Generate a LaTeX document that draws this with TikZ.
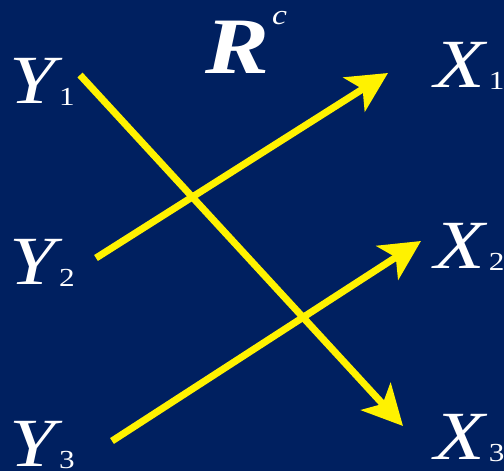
\documentclass[tikz,border=0pt]{standalone}
\usepackage{fontspec}
\setmainfont[FakeStretch=1.2]{Liberation Serif}
\usepackage{tikz}
\usetikzlibrary{arrows.meta}
\usepackage{xcolor}
\definecolor{navy}{RGB}{0,32,96}
\newcommand{\idx}[1]{\hspace{4pt}{\upshape\fontsize{26}{26}\selectfont\raisebox{-2pt}{#1}}}

\begin{document}
\begin{tikzpicture}[x=1pt, y=-1pt,
    var/.style={white, inner sep=0pt, anchor=base west, font=\fontsize{69}{69}\selectfont\itshape},
    rel/.style={yellow, line width=7pt, -{Stealth[length=40pt, width=40pt, inset=10pt]}}]
    % 背景
    \fill[navy] (0, 0) rectangle (504, 471);
    \useasboundingbox (0, 0) rectangle (504, 471);

    % 变量
    \node[var] (y1) at (9, 103) {Y\idx{1}};
    \node[var] (y2) at (9, 284) {Y\idx{2}};
    \node[var] (y3) at (9, 466) {Y\idx{3}};
    \node[var] (x1) at (434, 87) {X\idx{1}};
    \node[var] (x2) at (434, 268) {X\idx{2}};
    \node[var] (x3) at (434, 459) {X\idx{3}};

    % 关系
    \node[white, inner sep=0pt, anchor=base west, font=\fontsize{80}{80}\selectfont\bfseries\itshape]
        (r) at (205, 73) {R\hspace{3pt}\raisebox{49pt}{\mdseries\fontsize{28}{28}\selectfont c}};

    % 箭头端点
    \coordinate (s1) at (80, 75);
    \coordinate (s2) at (96, 258);
    \coordinate (s3) at (112, 441);
    \coordinate (t1) at (388, 73);
    \coordinate (t2) at (421, 241);
    \coordinate (t3) at (403, 426);

    \draw[rel] (s1) -- (t3);
    \draw[rel] (s2) -- (t1);
    \draw[rel] (s3) -- (t2);
\end{tikzpicture}
\end{document}
